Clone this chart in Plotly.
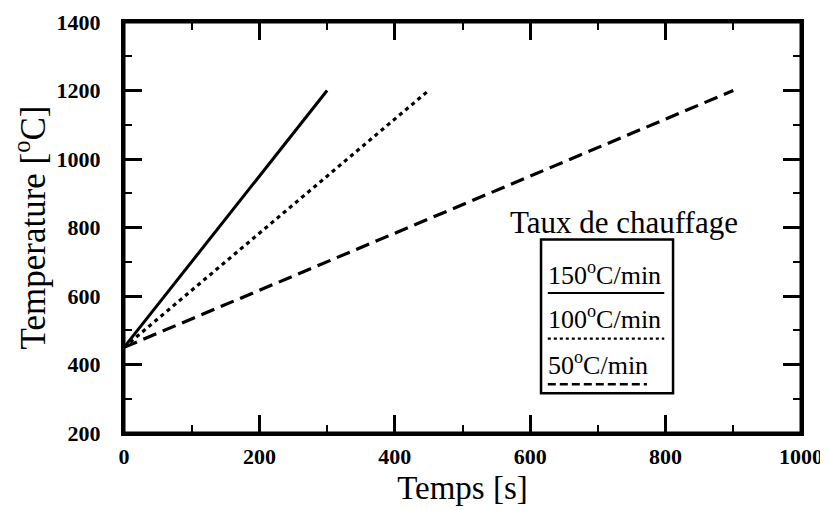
import plotly.graph_objects as go

# Data
rates = ["150<sup>o</sup>C/min", "100<sup>o</sup>C/min", "50<sup>o</sup>C/min"]
time_150 = [0, 300]
temp_150 = [450, 1200]
time_100 = [0, 450]
temp_100 = [450, 1200]
time_50 = [0, 900]
temp_50 = [450, 1200]
x_ticks = [0, 200, 400, 600, 800, 1000]
y_ticks = [200, 400, 600, 800, 1000, 1200, 1400]

SERIF = "Liberation Serif, Times New Roman, serif"
styles = [
    dict(dash="solid", width=3),
    dict(dash="4px,4px", width=3.2),
    dict(dash="14px,7px", width=3.2),
]
series = [(time_150, temp_150), (time_100, temp_100), (time_50, temp_50)]

fig = go.Figure()
for (xs, ys), st, nm in zip(series, styles, rates):
    fig.add_trace(go.Scatter(x=xs, y=ys, mode="lines", name=nm,
                             line=dict(color="black", width=st["width"], dash=st["dash"]),
                             showlegend=False))

tick_common = dict(
    ticklabeloverflow="allow", mirror="allticks",
    showgrid=False, zeroline=False, showline=True, linecolor="black", linewidth=3,
    ticks="inside", ticklen=18, tickwidth=2.5, tickcolor="black",
    tickfont=dict(family=SERIF, size=22, color="black", weight="bold"),
    minor=dict(ticks="inside", ticklen=8, tickwidth=2, tickcolor="black", dtick=100),
)

fig.update_layout(
    xaxis=dict(range=[0, 1000], tickvals=x_ticks, ticktext=[str(v) for v in x_ticks],
               ticklabelstandoff=2, automargin=True,
               title=dict(text="Temps [s]", font=dict(family=SERIF, size=33, color="black"), standoff=8),
               **tick_common),
    yaxis=dict(range=[200, 1400], tickvals=y_ticks, ticktext=[str(v) for v in y_ticks],
               ticklabelstandoff=16, automargin=False,
               title=dict(text="Temperature [<sup>o</sup>C]", font=dict(family=SERIF, size=35, color="black"), standoff=4),
               **tick_common),
)

# Plot frame
fig.add_shape(type="rect", xref="paper", yref="paper", x0=0, x1=1, y0=0, y1=1,
              line=dict(color="black", width=3), layer="above")

# Custom legend (box with labels above line samples)
box = dict(x0=0.616, x1=0.811, y0=0.0966, y1=0.471)
fig.add_shape(type="rect", xref="paper", yref="paper", **box,
              line=dict(color="black", width=2.5), fillcolor="white", layer="above")
fig.add_annotation(text="Taux de chauffage", xref="paper", yref="paper", x=0.738, y=0.513,
                   xanchor="center", yanchor="middle", showarrow=False,
                   font=dict(family=SERIF, size=31, color="black"))
label_y = [0.389, 0.280, 0.169]
line_y = [0.3406, 0.2295, 0.1184]
line_x1 = [0.798, 0.798, 0.7725]
leg_styles = [dict(dash="solid", width=2.2), dict(dash="3px,3px", width=2.2), dict(dash="8px,4px", width=2.5)]
for nm, ly, lny, lx1, st in zip(rates, label_y, line_y, line_x1, leg_styles):
    fig.add_annotation(text=nm, xref="paper", yref="paper", x=0.624, y=ly,
                       xanchor="left", yanchor="middle", showarrow=False,
                       font=dict(family=SERIF, size=26, color="black"))
    fig.add_shape(type="line", xref="paper", yref="paper", x0=0.626, x1=lx1, y0=lny, y1=lny,
                  line=dict(color="black", width=st["width"], dash=st["dash"]), layer="above")

# The page body adds an 8px offset, so margins are shifted to land the plot where the reference has it
fig.update_layout(
    width=828, height=510,
    margin=dict(l=116, r=35, t=11, b=85),
    plot_bgcolor="white", paper_bgcolor="white",
    font=dict(family=SERIF, color="black"),
)

fig.write_html("out.html")
